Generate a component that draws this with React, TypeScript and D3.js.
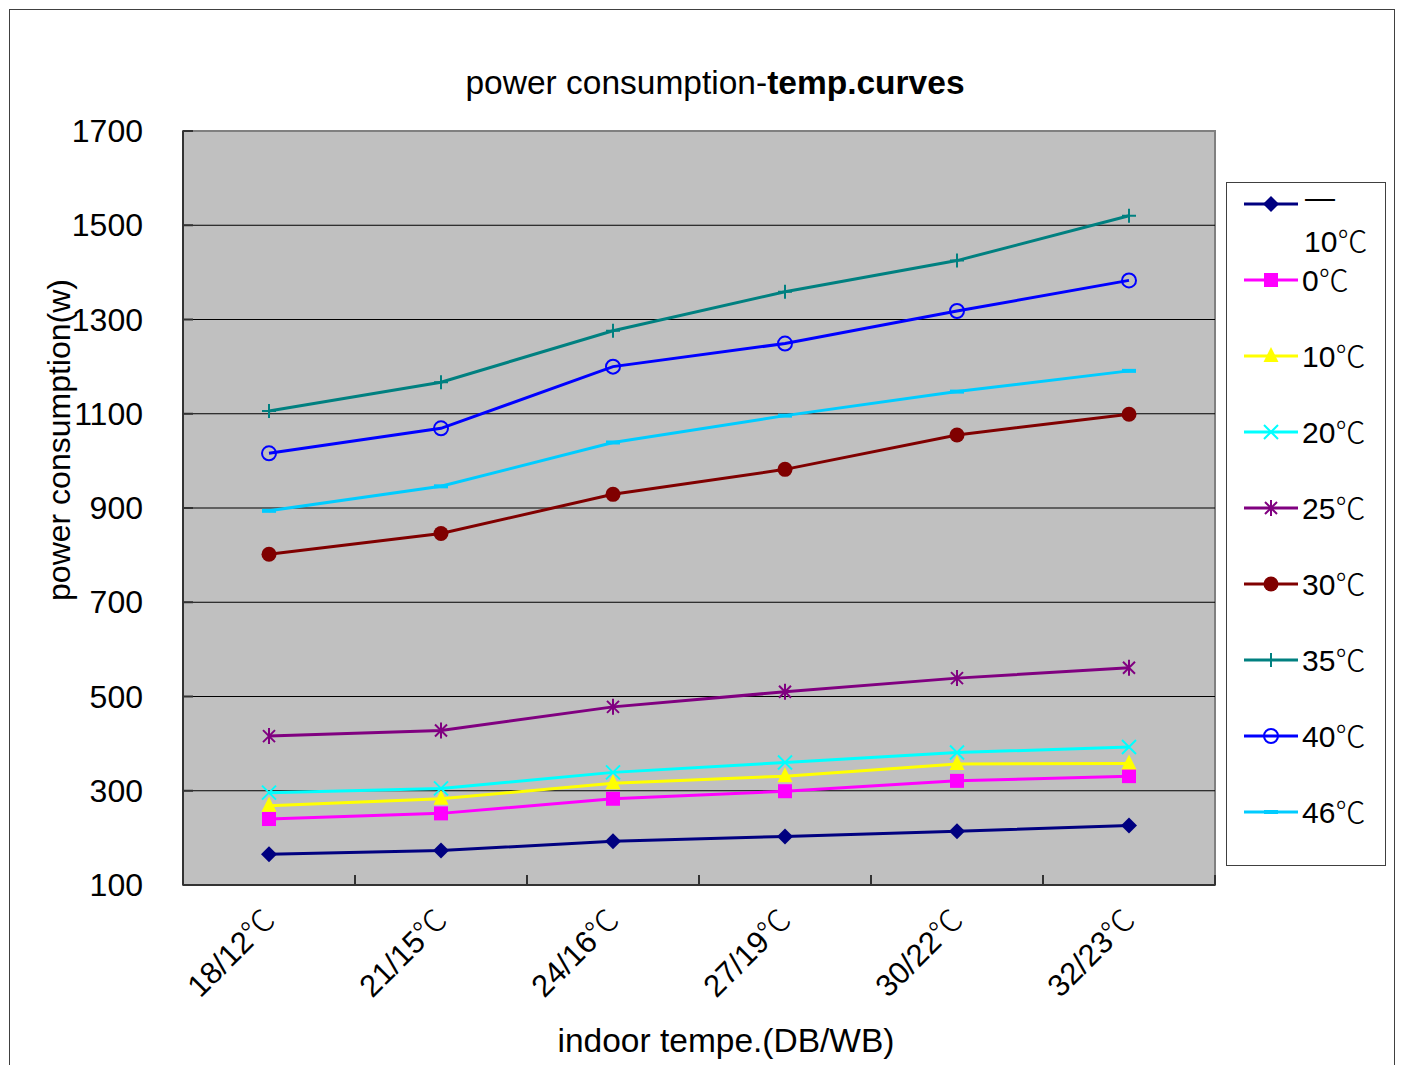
import React from "react";
import * as d3 from "d3";

const categories = ["18/12℃", "21/15℃", "24/16℃", "27/19℃", "30/22℃", "32/23℃"];
const yTicks = [100, 300, 500, 700, 900, 1100, 1300, 1500, 1700];

const seriesNames = ["－10℃", "0℃", "10℃", "20℃", "25℃", "30℃", "35℃", "40℃", "46℃"];
const seriesColors = ["#000080", "#FF00FF", "#FFFF00", "#00FFFF", "#800080", "#800000", "#008080", "#0000FF", "#00CCFF"];
const seriesMarkers = ["diamond", "square", "triangle", "x", "star", "dot", "plus", "circle", "dash"];

const sMinus10 = [165, 173, 193, 203, 214, 226];
const s0 = [240, 252, 283, 299, 321, 331];
const s10 = [268, 283, 316, 331, 357, 358];
const s20 = [296, 305, 339, 360, 381, 393];
const s25 = [416, 428, 478, 510, 539, 561];
const s30 = [802, 846, 929, 982, 1055, 1099];
const s35 = [1106, 1167, 1276, 1359, 1425, 1520];
const s40 = [1016, 1069, 1200, 1249, 1318, 1383];
const s46 = [894, 946, 1039, 1096, 1147, 1191];

const seriesValues = [sMinus10, s0, s10, s20, s25, s30, s35, s40, s46];

const W = 1401;
const H = 1065;
const plot = { left: 183, right: 1215, top: 131, bottom: 885 };
const FONT = "'Liberation Sans', Arial, 'Noto Sans CJK SC', sans-serif";
const CJK = "'Noto Sans CJK SC', 'Noto Sans CJK JP', sans-serif";

function Deg({ s }: { s: string }) {
  const parts = s.split("℃");
  return (
    <>
      {parts.map((p, i) => (
        <React.Fragment key={i}>
          {p}
          {i < parts.length - 1 ? (
            <tspan fontFamily={CJK} fontWeight={300}>
              ℃
            </tspan>
          ) : null}
        </React.Fragment>
      ))}
    </>
  );
}

function Marker({ type, x, y, color }: { type: string; x: number; y: number; color: string }) {
  switch (type) {
    case "diamond":
      return <path d={`M${x},${y - 8}L${x + 8},${y}L${x},${y + 8}L${x - 8},${y}Z`} fill={color} />;
    case "square":
      return <rect x={x - 7} y={y - 7} width={14} height={14} fill={color} />;
    case "triangle":
      return <path d={`M${x},${y - 9}L${x + 7.5},${y + 6}L${x - 7.5},${y + 6}Z`} fill={color} />;
    case "x":
      return (
        <path d={`M${x - 7},${y - 7}L${x + 7},${y + 7}M${x - 7},${y + 7}L${x + 7},${y - 7}`} stroke={color} strokeWidth={2} />
      );
    case "star":
      return (
        <path
          d={`M${x - 6},${y - 6}L${x + 6},${y + 6}M${x - 6},${y + 6}L${x + 6},${y - 6}M${x},${y - 8}L${x},${y + 8}`}
          stroke={color}
          strokeWidth={2}
        />
      );
    case "dot":
      return <circle cx={x} cy={y} r={7.5} fill={color} />;
    case "plus":
      return <path d={`M${x - 7},${y}L${x + 7},${y}M${x},${y - 7}L${x},${y + 7}`} stroke={color} strokeWidth={2} />;
    case "circle":
      return <circle cx={x} cy={y} r={7} fill="none" stroke={color} strokeWidth={2} />;
    case "dash":
      return <rect x={x - 7} y={y - 2} width={14} height={4} fill={color} />;
    default:
      return null;
  }
}

export default function App() {
  const x = d3.scaleBand<string>().domain(categories).range([plot.left, plot.right]);
  const y = d3.scaleLinear().domain([100, 1700]).range([plot.bottom, plot.top]);
  const cx = (c: string) => (x(c) as number) + x.bandwidth() / 2;
  const line = d3
    .line<number>()
    .x((_, i) => cx(categories[i]))
    .y((v) => y(v));

  const boundaries = categories.map((c) => x(c) as number).concat([plot.right]);

  const legendX = 1271;
  const legendYs = seriesNames.map((_, i) => (i === 0 ? 204 : 280 + (i - 1) * 76));

  return (
    <svg width={W} height={H} style={{ position: "absolute", left: 0, top: 0, display: "block" }} fontFamily={FONT}>
      <rect x={0} y={0} width={W} height={H} fill="#fff" />
      <rect x={9.5} y={9.5} width={1385} height={1100} fill="none" stroke="#404040" strokeWidth={1} />

      <text x={715} y={94} textAnchor="middle" fontSize={33.5} fill="#000">
        power consumption-<tspan fontWeight="bold">temp.curves</tspan>
      </text>

      <rect x={plot.left} y={plot.top} width={plot.right - plot.left} height={plot.bottom - plot.top} fill="#C0C0C0" stroke="#808080" strokeWidth={2} />

      {yTicks.slice(1, -1).map((t) => (
        <line key={t} x1={plot.left} x2={plot.right} y1={y(t)} y2={y(t)} stroke="#000" strokeWidth={1} />
      ))}
      {yTicks.map((t) => (
        <line key={"yt" + t} x1={plot.left} x2={plot.left + 10} y1={y(t)} y2={y(t)} stroke="#333" strokeWidth={2} />
      ))}
      {boundaries.map((b, i) => (
        <line key={"xt" + i} x1={b} x2={b} y1={plot.bottom} y2={plot.bottom - 10} stroke="#333" strokeWidth={2} />
      ))}
      <line x1={plot.left} x2={plot.left} y1={plot.top} y2={plot.bottom} stroke="#333" strokeWidth={2} />
      <line x1={plot.left} x2={plot.right} y1={plot.bottom} y2={plot.bottom} stroke="#333" strokeWidth={2} />

      {yTicks.map((t) => (
        <text key={"yl" + t} x={143} y={y(t) + 11} textAnchor="end" fontSize={32} fill="#000">
          {t}
        </text>
      ))}

      {categories.map((c) => (
        <text
          key={c}
          transform={`translate(${cx(c) + 8},${922}) rotate(-45)`}
          textAnchor="end"
          fontSize={31}
          fill="#000"
        >
          <Deg s={c} />
        </text>
      ))}

      <text x={726} y={1052} textAnchor="middle" fontSize={33.5} fill="#000">
        indoor tempe.(DB/WB)
      </text>
      <text transform={`translate(70,440) rotate(-90)`} textAnchor="middle" fontSize={32} fill="#000">
        power consumption(w)
      </text>

      {seriesValues.map((vals, si) => (
        <g key={"s" + si}>
          <path d={line(vals) || ""} fill="none" stroke={seriesColors[si]} strokeWidth={3} />
          {vals.map((v, i) => (
            <Marker key={i} type={seriesMarkers[si]} x={cx(categories[i])} y={y(v)} color={seriesColors[si]} />
          ))}
        </g>
      ))}

      <rect x={1226.5} y={182.5} width={159} height={683} fill="#fff" stroke="#404040" strokeWidth={1} />
      {seriesNames.map((n, i) => (
        <g key={"lg" + i}>
          <line x1={legendX - 27} x2={legendX + 27} y1={legendYs[i]} y2={legendYs[i]} stroke={seriesColors[i]} strokeWidth={3} />
          <Marker type={seriesMarkers[i]} x={legendX} y={legendYs[i]} color={seriesColors[i]} />
          {i === 0 ? (
            <>
              <text x={1305} y={legendYs[i] + 4} fontSize={30} fill="#000">—</text>
              <text x={1304} y={legendYs[i] + 48} fontSize={30} fill="#000">
                <Deg s={n.replace("－", "")} />
              </text>
            </>
          ) : (
            <text x={1302} y={legendYs[i] + 11} fontSize={30} fill="#000">
              <Deg s={n} />
            </text>
          )}
        </g>
      ))}
    </svg>
  );
}
